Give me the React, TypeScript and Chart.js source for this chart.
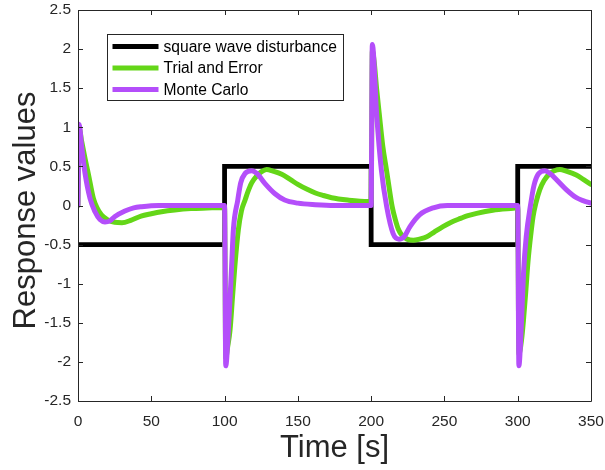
import React, { useEffect, useRef } from "react";
import { Chart, registerables } from "chart.js";

Chart.register(...registerables);

// ---- data ----
const X_TICKS = [0, 50, 100, 150, 200, 250, 300, 350];
const Y_TICKS = [-2.5, -2, -1.5, -1, -0.5, 0, 0.5, 1, 1.5, 2, 2.5];

const SQUARE_TIME = [0, 100, 100, 200, 200, 300, 300, 350];
const SQUARE_VALUES = [-0.5, -0.5, 0.5, 0.5, -0.5, -0.5, 0.5, 0.5];

const TE_TIME = [
  0, 0.7, 2.5, 4.8, 7, 10.5, 13, 16, 20, 25, 30, 36, 43, 50, 57, 66, 77, 88, 100,
  100.8, 102, 103.7, 105.5, 107, 109.4, 111.5, 114, 116, 118.5, 122, 125, 128.7, 133, 139, 145, 150, 156, 162, 167, 173, 184, 198, 200,
  200.8, 202, 203.7, 205.5, 208, 210.5, 212.5, 214.4, 216.5, 218.5, 221, 224.5, 228.8, 233, 238, 243, 249, 255, 261, 266, 272, 283, 297, 300,
  300.8, 302.6, 304, 305.5, 307, 309, 310.5, 312.5, 315, 318, 322, 325, 328.8, 333, 340, 345, 350,
];
const TE_VALUES = [
  0, 1.0, 0.82, 0.6, 0.41, 0.09, -0.03, -0.12, -0.18, -0.215, -0.22, -0.19, -0.135, -0.105, -0.08, -0.058, -0.04, -0.032, -0.025,
  -1.95, -1.82, -1.6, -1.15, -0.78, -0.31, -0.07, 0.07, 0.18, 0.29, 0.38, 0.43, 0.46, 0.44, 0.4, 0.33, 0.27, 0.21, 0.16, 0.13, 0.1, 0.07, 0.05, 0.05,
  1.98, 1.85, 1.5, 1.18, 0.75, 0.45, 0.2, -0.02, -0.18, -0.3, -0.38, -0.43, -0.445, -0.43, -0.4, -0.34, -0.27, -0.21, -0.165, -0.13, -0.1, -0.06, -0.035, -0.03,
  -1.9, -1.72, -1.45, -1.1, -0.72, -0.36, -0.14, 0.04, 0.2, 0.32, 0.41, 0.445, 0.46, 0.44, 0.39, 0.33, 0.27,
];

const MC_TIME = [
  0, 0.7, 2.5, 4.8, 8.2, 11.6, 15, 18.4, 21.5, 25.2, 32, 38, 43.4, 55, 70, 100,
  100.8, 102.5, 104.8, 106, 109, 111, 114, 118.5, 122, 127.6, 134.4, 141, 150, 162, 175, 200,
  200.8, 203.7, 207, 210.6, 215, 219, 222.5, 226.5, 233, 242.4, 252, 265, 300,
  300.8, 302.3, 304, 305.8, 308.7, 311, 314, 318.6, 322, 326.5, 333.3, 340, 345, 350,
];
const MC_VALUES = [
  0, 1.04, 0.75, 0.41, 0.09, -0.08, -0.18, -0.21, -0.2, -0.14, -0.07, -0.03, -0.015, 0.0, 0.0, 0.0,
  -2.05, -1.63, -0.78, -0.31, 0.07, 0.29, 0.41, 0.445, 0.41, 0.28, 0.15, 0.07, 0.03, 0.01, 0.0, 0.0,
  2.06, 1.18, 0.45, -0.015, -0.36, -0.43, -0.4, -0.27, -0.12, -0.03, 0.0, 0.0, 0.0,
  -2.05, -1.6, -0.85, -0.4, 0.0, 0.25, 0.4, 0.445, 0.41, 0.33, 0.2, 0.1, 0.06, 0.03,
];

const SERIES_LABELS = ["square wave disturbance", "Trial and Error", "Monte Carlo"];
const SERIES_COLORS = ["#000000", "rgb(100,214,24)", "rgb(180,78,250)"];
const X_TITLE = "Time [s]";
const Y_TITLE = "Response values";

const FONT = "'Liberation Sans', Arial, Helvetica, sans-serif";
const AXIS_COLOR = "#262626";

const toPoints = (xs: number[], ys: number[]) => xs.map((x, i) => ({ x, y: ys[i] }));

const zeroPadding = (s: any) => {
  s.paddingTop = 0;
  s.paddingBottom = 0;
  s.paddingLeft = 0;
  s.paddingRight = 0;
};

const boxPlugin = {
  id: "matlabBox",
  afterDatasetsDraw(chart: any) {
    const { ctx, chartArea, scales } = chart;
    const { left, right, top, bottom } = chartArea;
    const xs = scales.x;
    const ys = scales.y;
    ctx.save();
    ctx.strokeStyle = AXIS_COLOR;
    ctx.lineWidth = 1;
    ctx.beginPath();
    ctx.rect(Math.round(left) + 0.5, Math.round(top) + 0.5, Math.round(right - left), Math.round(bottom - top));
    ctx.stroke();
    const tl = 5;
    ctx.beginPath();
    X_TICKS.forEach((v) => {
      const px = Math.round(xs.getPixelForValue(v)) + 0.5;
      ctx.moveTo(px, bottom);
      ctx.lineTo(px, bottom - tl);
      ctx.moveTo(px, top);
      ctx.lineTo(px, top + tl);
    });
    Y_TICKS.forEach((v) => {
      const py = Math.round(ys.getPixelForValue(v)) + 0.5;
      ctx.moveTo(left, py);
      ctx.lineTo(left + tl, py);
      ctx.moveTo(right, py);
      ctx.lineTo(right - tl, py);
    });
    ctx.stroke();
    ctx.restore();
  },
  afterDraw(chart: any) {
    const { ctx, chartArea } = chart;
    // y-axis title
    ctx.save();
    ctx.fillStyle = AXIS_COLOR;
    ctx.font = `31px ${FONT}`;
    ctx.textAlign = "center";
    ctx.textBaseline = "middle";
    ctx.translate(chartArea.left - 52, (chartArea.top + chartArea.bottom) / 2 + 5);
    ctx.rotate(-Math.PI / 2);
    ctx.fillText(Y_TITLE, 0, 0);
    ctx.restore();

    // legend
    const bx = chartArea.left + 29.5;
    const by = chartArea.top + 24.5;
    const bw = 236;
    const bh = 66;
    ctx.save();
    ctx.fillStyle = "#ffffff";
    ctx.fillRect(bx, by, bw, bh);
    ctx.strokeStyle = AXIS_COLOR;
    ctx.lineWidth = 1;
    ctx.strokeRect(bx, by, bw, bh);
    ctx.font = `15.6px ${FONT}`;
    ctx.textBaseline = "middle";
    ctx.textAlign = "left";
    chart.data.datasets.forEach((ds: any, i: number) => {
      const ry = by + 12 + i * 21.5;
      ctx.strokeStyle = ds.borderColor;
      ctx.lineWidth = 5;
      ctx.lineCap = "butt";
      ctx.beginPath();
      ctx.moveTo(bx + 5, ry);
      ctx.lineTo(bx + 51, ry);
      ctx.stroke();
      ctx.fillStyle = "#000000";
      ctx.fillText(ds.label, bx + 56, ry + 1);
    });
    ctx.restore();
  },
};

export default function App() {
  const ref = useRef<HTMLCanvasElement | null>(null);

  useEffect(() => {
    if (!ref.current) return;
    const chart = new Chart(ref.current, {
      type: "line",
      data: {
        datasets: [
          {
            label: SERIES_LABELS[0],
            data: toPoints(SQUARE_TIME, SQUARE_VALUES),
            borderColor: SERIES_COLORS[0],
            backgroundColor: SERIES_COLORS[0],
            borderWidth: 4.8,
            pointRadius: 0,
            tension: 0,
            borderJoinStyle: "miter",
            order: 3,
          },
          {
            label: SERIES_LABELS[1],
            data: toPoints(TE_TIME, TE_VALUES),
            borderColor: SERIES_COLORS[1],
            backgroundColor: SERIES_COLORS[1],
            borderWidth: 5,
            pointRadius: 0,
            cubicInterpolationMode: "monotone",
            borderCapStyle: "round",
            borderJoinStyle: "round",
            order: 2,
          },
          {
            label: SERIES_LABELS[2],
            data: toPoints(MC_TIME, MC_VALUES),
            borderColor: SERIES_COLORS[2],
            backgroundColor: SERIES_COLORS[2],
            borderWidth: 5,
            pointRadius: 0,
            cubicInterpolationMode: "monotone",
            borderCapStyle: "round",
            borderJoinStyle: "round",
            order: 1,
          },
        ],
      },
      options: {
        animation: false,
        responsive: false,
        maintainAspectRatio: false,
        layout: { padding: { left: 0, right: 14, top: 10, bottom: 0 } },
        plugins: { legend: { display: false }, tooltip: { enabled: false } },
        scales: {
          x: {
            type: "linear",
            min: 0,
            max: 350,
            grid: { display: false, drawTicks: false },
            border: { display: false },
            afterBuildTicks: (s: any) => {
              s.ticks = X_TICKS.map((v) => ({ value: v }));
            },
            afterFit: (s: any) => {
              s.height = 69;
              zeroPadding(s);
            },
            ticks: {
              autoSkip: false,
              maxRotation: 0,
              padding: 11,
              color: AXIS_COLOR,
              font: { family: FONT, size: 15.5 },
              callback: (v: any) => String(v),
            },
            title: {
              display: true,
              text: X_TITLE,
              color: AXIS_COLOR,
              font: { family: FONT, size: 31 },
              padding: { top: 0, bottom: 3 },
            },
          },
          y: {
            type: "linear",
            min: -2.5,
            max: 2.5,
            grid: { display: false, drawTicks: false },
            border: { display: false },
            afterBuildTicks: (s: any) => {
              s.ticks = Y_TICKS.map((v) => ({ value: v }));
            },
            afterFit: (s: any) => {
              s.width = 78;
              zeroPadding(s);
            },
            ticks: {
              autoSkip: false,
              padding: 7,
              color: AXIS_COLOR,
              font: { family: FONT, size: 15.5 },
              callback: (v: any) => String(v),
            },
            title: { display: false },
          },
        },
      },
      plugins: [boxPlugin],
    });
    return () => chart.destroy();
  }, []);

  return (
    <div style={{ position: "absolute", left: 0, top: 0, width: 605, height: 470, background: "#ffffff" }}>
      <canvas ref={ref} width={605} height={470} />
    </div>
  );
}
